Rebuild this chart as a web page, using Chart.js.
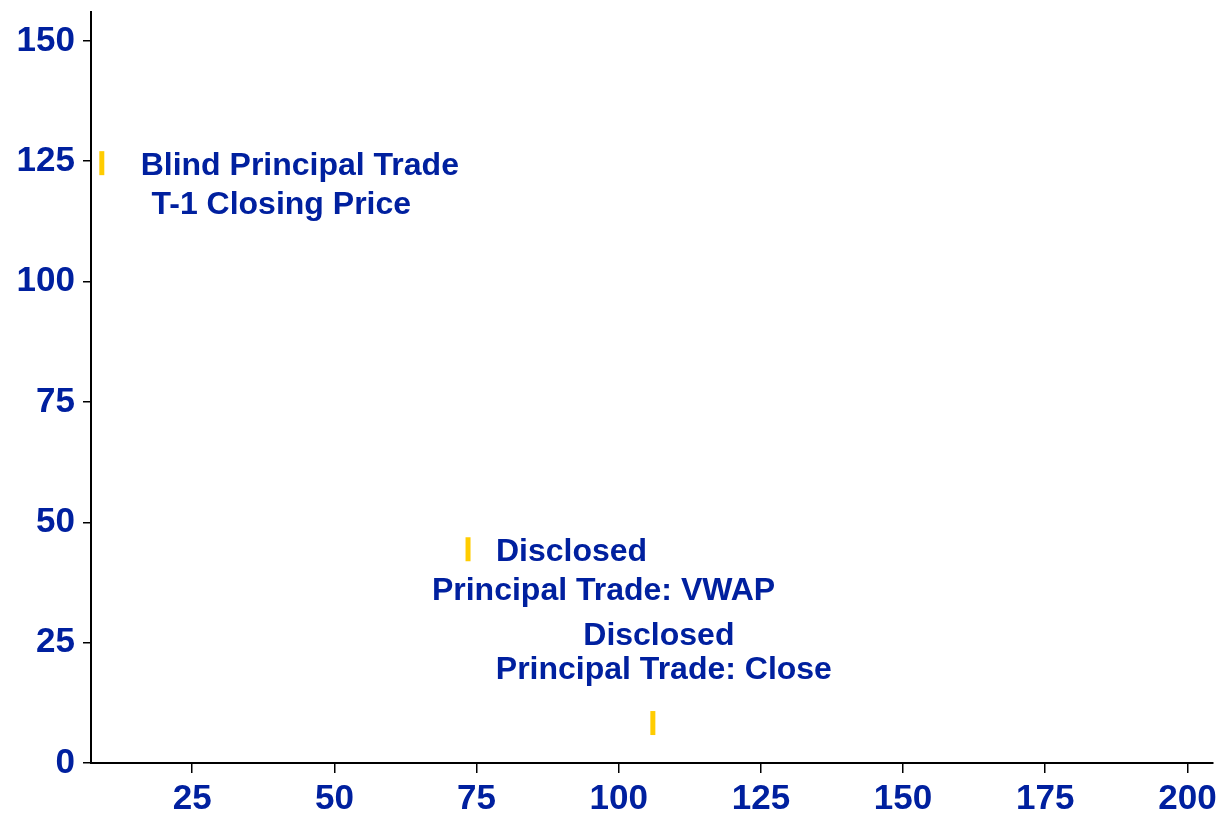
<!DOCTYPE html>
<html>
<head>
<meta charset="utf-8">
<script src="https://cdn.jsdelivr.net/npm/chart.js@4/dist/chart.umd.min.js"></script>
<style>
  html, body { margin: 0; padding: 0; background: #ffffff; }
  #wrap { width: 1216px; height: 816px; }
</style>
</head>
<body>
<div id="wrap"><canvas id="c" width="1216" height="816"></canvas></div>
<script>
// ---- data ----
const tradeNames = [
  ["Blind Principal Trade", " T-1 Closing Price"],
  ["Disclosed", "Principal Trade: VWAP"],
  ["Disclosed", "Principal Trade: Close"]
];
const xValues = [9.1, 73.5, 106];
const yValues = [124.6, 44.4, 8.3];
const xTicks = [25, 50, 75, 100, 125, 150, 175, 200];
const yTicks = [0, 25, 50, 75, 100, 125, 150];

// ---- style ----
const TEXT = '#00209F';
const YELLOW = '#FFCC00';
const FONT = "'Liberation Sans', Arial, sans-serif";

// label line placement relative to each point (pixels): [dx(center), dy(baseline)]
const labelOffsets = [
  [[198, 12], [175, 51]],
  [[103.5, 11.5], [135.5, 50.5]],
  [[6, -78], [11, -44]]
];

const labelPlugin = {
  id: 'pointLabels',
  afterDatasetsDraw(chart) {
    const ctx = chart.ctx;
    const meta = chart.getDatasetMeta(0);
    ctx.save();
    ctx.fillStyle = TEXT;
    ctx.font = "bold 32px " + FONT;
    ctx.textAlign = 'center';
    ctx.textBaseline = 'alphabetic';
    meta.data.forEach((pt, i) => {
      tradeNames[i].forEach((line, j) => {
        const o = labelOffsets[i][j];
        ctx.fillText(line, pt.x + o[0], pt.y + o[1]);
      });
    });
    ctx.restore();
  }
};

new Chart(document.getElementById('c'), {
  type: 'scatter',
  data: {
    datasets: [{
      data: xValues.map((x, i) => ({ x: x, y: yValues[i] })),
      pointStyle: 'line',
      rotation: 90,
      radius: 12,
      hoverRadius: 12,
      borderWidth: 5,
      borderColor: YELLOW,
      backgroundColor: YELLOW
    }]
  },
  options: {
    responsive: false,
    animation: false,
    layout: { autoPadding: false, padding: { top: 12, right: 3, left: 0, bottom: 0 } },
    plugins: { legend: { display: false }, tooltip: { enabled: false } },
    scales: {
      x: {
        type: 'linear',
        min: 7.2,
        max: 204.5,
        afterBuildTicks(scale) { scale.ticks = xTicks.map(v => ({ value: v })); },
        afterFit(scale) { scale.height = 53; scale.paddingLeft = 0; scale.paddingRight = 0; },
        border: { display: true, color: '#000', width: 2 },
        grid: { drawOnChartArea: false, drawTicks: true, tickLength: 10, color: '#000', lineWidth: 1.5 },
        ticks: { color: TEXT, font: { family: FONT, size: 35, weight: 'bold' }, padding: 5, maxRotation: 0, autoSkip: false }
      },
      y: {
        type: 'linear',
        min: 0,
        max: 156,
        afterBuildTicks(scale) { scale.ticks = yTicks.map(v => ({ value: v })); },
        afterFit(scale) { scale.width = 91; scale.paddingTop = 0; scale.paddingBottom = 0; },
        border: { display: true, color: '#000', width: 2 },
        grid: { drawOnChartArea: false, drawTicks: true, tickLength: 8, color: '#000', lineWidth: 1.5 },
        ticks: { color: TEXT, font: { family: FONT, size: 35, weight: 'bold' }, padding: 8, autoSkip: false }
      }
    }
  },
  plugins: [labelPlugin]
});
</script>
</body>
</html>
